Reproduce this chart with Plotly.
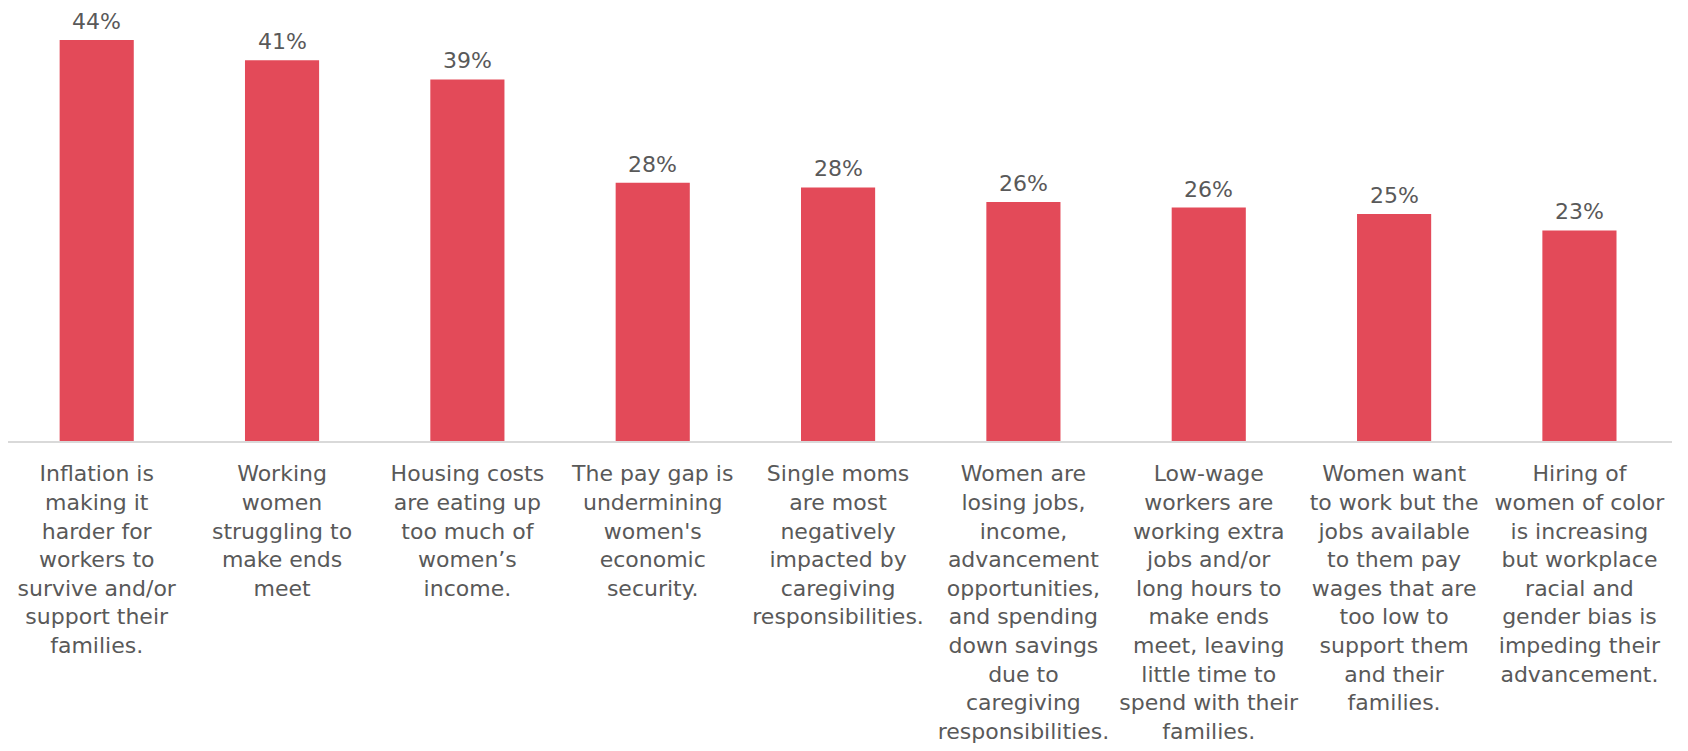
import plotly.graph_objects as go

categories = [
    "Inflation is<br>making it<br>harder for<br>workers to<br>survive and/or<br>support their<br>families.",
    "Working<br>women<br>struggling to<br>make ends<br>meet",
    "Housing costs<br>are eating up<br>too much of<br>women’s<br>income.",
    "The pay gap is<br>undermining<br>women's<br>economic<br>security.",
    "Single moms<br>are most<br>negatively<br>impacted by<br>caregiving<br>responsibilities.",
    "Women are<br>losing jobs,<br>income,<br>advancement<br>opportunities,<br>and spending<br>down savings<br>due to<br>caregiving<br>responsibilities.",
    "Low-wage<br>workers are<br>working extra<br>jobs and/or<br>long hours to<br>make ends<br>meet, leaving<br>little time to<br>spend with their<br>families.",
    "Women want<br>to work but the<br>jobs available<br>to them pay<br>wages that are<br>too low to<br>support them<br>and their<br>families.",
    "Hiring of<br>women of color<br>is increasing<br>but workplace<br>racial and<br>gender bias is<br>impeding their<br>advancement.",
]
values = [43.8, 41.6, 39.5, 28.2, 27.7, 26.1, 25.5, 24.8, 23.0]
value_labels = ["44%", "41%", "39%", "28%", "28%", "26%", "26%", "25%", "23%"]

FONT = "Century Gothic, DejaVu Sans, sans-serif"
GRAY = "#595959"
BAR = "#E34A59"

fig = go.Figure(go.Bar(
    x=list(range(len(categories))),
    y=values,
    marker=dict(color=BAR, line=dict(width=0)),
    hoverinfo="skip",
))

for i, (v, lab) in enumerate(zip(values, value_labels)):
    fig.add_annotation(x=i, y=v, text=lab, showarrow=False, yanchor="bottom",
                       yshift=4, font=dict(family=FONT, size=22, color=GRAY))

fig.update_layout(
    width=1688, height=751,
    margin=dict(l=0, r=24, t=8, b=318, autoexpand=False),
    paper_bgcolor="white", plot_bgcolor="white",
    bargap=0.6,
    showlegend=False,
    font=dict(family=FONT, size=22, color=GRAY),
)
fig.update_xaxes(
    tickmode="array", tickvals=list(range(len(categories))), ticktext=categories,
    tickangle=0, showgrid=False, zeroline=False, automargin=False,
    showline=True, linecolor="#D9D9D9", linewidth=2,
    ticks="outside", ticklen=12, tickcolor="rgba(0,0,0,0)",
    tickfont=dict(family=FONT, size=22, color=GRAY),
    range=[-0.4786, 8.4994],
)
fig.update_yaxes(range=[0, 46.43], visible=False, showgrid=False, zeroline=False,
                 automargin=False)

fig.write_html("out.html")
